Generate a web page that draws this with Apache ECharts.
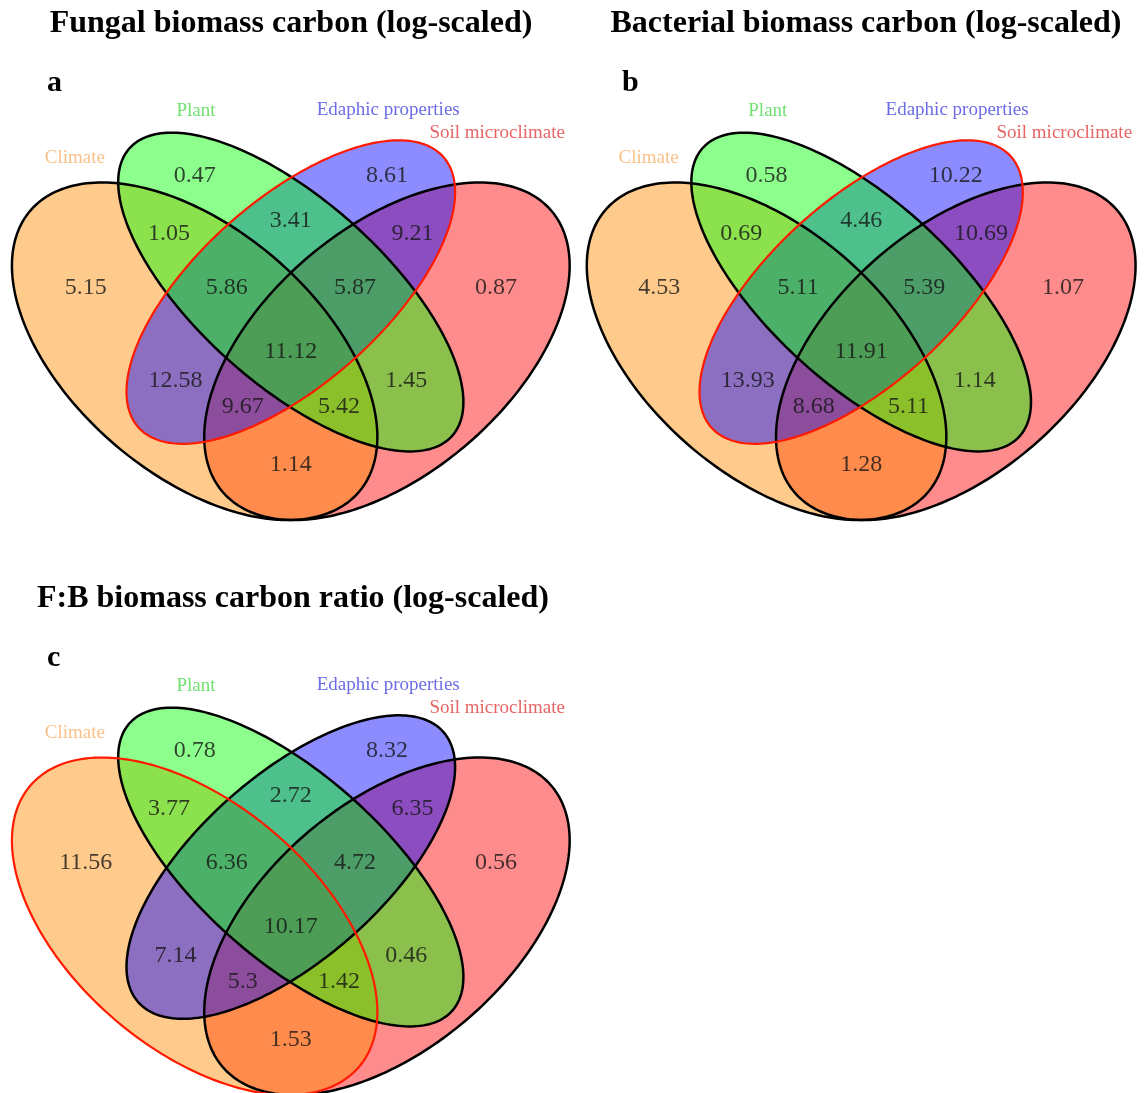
<!DOCTYPE html>
<html>
<head>
<meta charset="utf-8">
<script src="https://cdn.jsdelivr.net/npm/echarts@6/dist/echarts.min.js"></script>
<style>
html,body{margin:0;padding:0;background:#fff;}
#chart{width:1145px;height:1093px;}
</style>
</head>
<body>
<div id="chart"></div>
<script>
// ---------------- DATA ----------------
const setNames = ['Climate', 'Plant', 'Edaphic properties', 'Soil microclimate'];
// region order: C, P, E, S, C∩P, P∩E, E∩S, C∩P∩E, P∩E∩S, C∩P∩E∩S, C∩E, P∩S, C∩E∩S, C∩P∩S, C∩S
const regionKeys = ['C', 'P', 'E', 'S', 'CP', 'PE', 'ES', 'CPE', 'PES', 'CPES', 'CE', 'PS', 'CES', 'CPS', 'CS'];
const fungalValues = [5.15, 0.47, 8.61, 0.87, 1.05, 3.41, 9.21, 5.86, 5.87, 11.12, 12.58, 1.45, 9.67, 5.42, 1.14];
const bacterialValues = [4.53, 0.58, 10.22, 1.07, 0.69, 4.46, 10.69, 5.11, 5.39, 11.91, 13.93, 1.14, 8.68, 5.11, 1.28];
const ratioValues = [11.56, 0.78, 8.32, 0.56, 3.77, 2.72, 6.35, 6.36, 4.72, 10.17, 7.14, 0.46, 5.3, 1.42, 1.53];
const panelTitles = ['Fungal biomass carbon (log-scaled)', 'Bacterial biomass carbon (log-scaled)', 'F:B biomass carbon ratio (log-scaled)'];
const panelLetters = ['a', 'b', 'c'];

// ---------------- LAYOUT / STYLE ----------------
const panelValues = [fungalValues, bacterialValues, ratioValues];
const highlightedSet = [2, 2, 0];
const panelOffsets = [[0, 0], [575, 0], [0, 575]];
// ellipse geometry in unit diagram coords: cx, cy, a, b, rotation(deg)
const ellipseGeom = [
  [0.35, 0.47, 0.35, 0.20, 135],
  [0.50, 0.57, 0.35, 0.15, 135],
  [0.50, 0.57, 0.33, 0.15, 45],
  [0.65, 0.47, 0.35, 0.20, 45]
];
const regionPos = [[0.18, 0.578], [0.35, 0.766], [0.65, 0.766], [0.82, 0.578], [0.31, 0.668], [0.5, 0.69], [0.69, 0.668],
  [0.40, 0.578], [0.60, 0.578], [0.5, 0.469], [0.32, 0.42], [0.68, 0.42], [0.425, 0.377], [0.575, 0.377], [0.5, 0.278]];
const setLabelPos = [[0.163, 0.796], [0.352, 0.876], [0.652, 0.878], [0.822, 0.839]];
const setFill = ['#FF8C00', '#00FF00', '#0000FF', '#FF0000'];
const setTextColor = ['#F7B068', '#4CD94C', '#4646E0', '#E03C3C'];
const fillOrder = [3, 0, 2, 1];
const FONT = "'Liberation Serif','Times New Roman',serif";

// unit->pixel: px = -29.7 + 641*x ; py = 629.5 - 592*y
const XMIN = 0.05, XMAX = 0.95, YMIN = 0.20, YMAX = 0.95;
const SX = 641, SY = 592, X0 = -29.7, Y0 = 629.5;

const grids = [], xAxes = [], yAxes = [], series = [], graphics = [];

function ellipsePoints(api, g) {
  const [cx, cy, a, b, rotDeg] = g;
  const r = rotDeg * Math.PI / 180;
  const pts = [];
  for (let k = 0; k < 240; k++) {
    const t = k / 240 * 2 * Math.PI;
    const x = cx + a * Math.cos(t) * Math.cos(r) - b * Math.sin(t) * Math.sin(r);
    const y = cy + a * Math.cos(t) * Math.sin(r) + b * Math.sin(t) * Math.cos(r);
    pts.push(api.coord([x, y]));
  }
  return pts;
}

panelValues.forEach((vals, p) => {
  const [dx, dy] = panelOffsets[p];
  grids.push({
    left: X0 + SX * XMIN + dx,
    top: Y0 - SY * YMAX + dy,
    width: SX * (XMAX - XMIN),
    height: SY * (YMAX - YMIN),
    containLabel: false
  });
  xAxes.push({ type: 'value', gridIndex: p, min: XMIN, max: XMAX, show: false });
  yAxes.push({ type: 'value', gridIndex: p, min: YMIN, max: YMAX, show: false });

  // fills
  series.push({
    type: 'custom', xAxisIndex: p, yAxisIndex: p, clip: false, silent: true, z: 1,
    data: fillOrder.map(i => ellipseGeom[i].concat([i])),
    renderItem: function (params, api) {
      const i = api.value(5);
      const g = ellipseGeom[i];
      return { type: 'polygon', shape: { points: ellipsePoints(api, g) },
        style: { fill: setFill[i], opacity: 0.45, stroke: null } };
    }
  });
  // outlines (highlighted last)
  const outlineOrder = [0, 1, 2, 3].filter(i => i !== highlightedSet[p]).concat([highlightedSet[p]]);
  series.push({
    type: 'custom', xAxisIndex: p, yAxisIndex: p, clip: false, silent: true, z: 2,
    data: outlineOrder.map(i => ellipseGeom[i].concat([i])),
    renderItem: function (params, api) {
      const i = api.value(5);
      const g = ellipseGeom[i];
      const hl = i === highlightedSet[p];
      return { type: 'polygon', shape: { points: ellipsePoints(api, g) },
        style: { fill: null, stroke: hl ? '#FF1A00' : '#000', lineWidth: hl ? 2.2 : 2.5 } };
    }
  });
  // region values
  series.push({
    type: 'scatter', xAxisIndex: p, yAxisIndex: p, symbolSize: 1, z: 3,
    itemStyle: { color: 'rgba(0,0,0,0)' },
    silent: true,
    data: vals.map((v, k) => ({ value: [regionPos[k][0], regionPos[k][1]], name: regionKeys[k] })),
    label: {
      show: true, position: 'inside', fontFamily: FONT, fontSize: 24, color: '#151515',
      formatter: (d) => String(vals[d.dataIndex])
    }
  });
  // set labels
  series.push({
    type: 'scatter', xAxisIndex: p, yAxisIndex: p, symbolSize: 1, z: 3,
    itemStyle: { color: 'rgba(0,0,0,0)' },
    silent: true,
    data: setNames.map((n, k) => ({ value: [setLabelPos[k][0], setLabelPos[k][1]], name: n,
      label: { color: setTextColor[k] } })),
    label: {
      show: true, position: 'inside', fontFamily: FONT, fontSize: 19,
      formatter: (d) => d.name
    }
  });

  graphics.push({
    type: 'text', x: 291 + dx + (p === 2 ? 2 : 0), y: 24 + dy,
    style: { text: panelTitles[p], font: "bold 32px " + FONT, fill: '#000', textAlign: 'center', textVerticalAlign: 'middle' }
  });
  graphics.push({
    type: 'text', x: 47 + dx, y: 83 + dy,
    style: { text: panelLetters[p], font: "bold 30px " + FONT, fill: '#000', textAlign: 'left', textVerticalAlign: 'middle' }
  });
});

const chart = echarts.init(document.getElementById('chart'), null, { renderer: 'canvas' });
chart.setOption({
  animation: false,
  backgroundColor: '#fff',
  grid: grids,
  xAxis: xAxes,
  yAxis: yAxes,
  series: series,
  graphic: graphics
});
</script>
</body>
</html>
